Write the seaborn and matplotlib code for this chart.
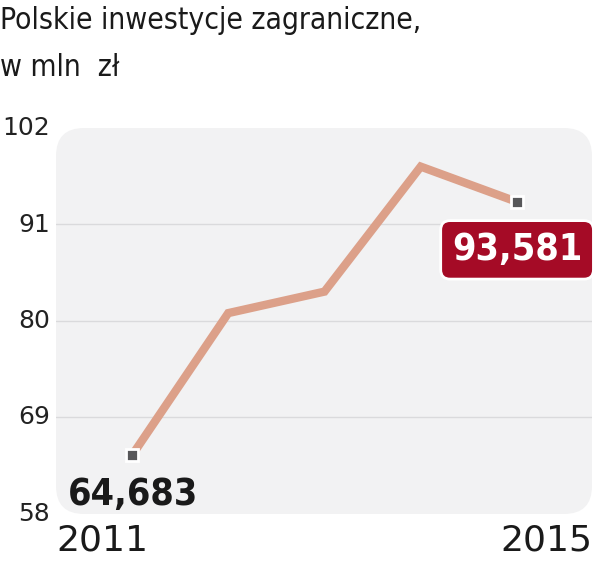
import matplotlib
matplotlib.use("Agg")
import matplotlib.pyplot as plt
from matplotlib.patches import FancyBboxPatch
import seaborn as sns
import pandas as pd

years = [2011, 2012, 2013, 2014, 2015]
values = [64.683, 80.9, 83.35, 97.6, 93.581]
y_ticks = [58, 69, 80, 91, 102]
first_label = "64,683"
last_label = "93,581"
title_lines = ["Polskie inwestycje zagraniczne,", "w mln  zł"]

sns.set_theme(style="white")
plt.rcParams["font.family"] = ["DejaVu Sans"]

df = pd.DataFrame({"rok": years, "wartosc": values})

fig = plt.figure(figsize=(6.02, 5.61), dpi=100)

# background layer in pixel units for the rounded grey panel
bg = fig.add_axes([0, 0, 1, 1], zorder=-1)
bg.set_xlim(0, 602)
bg.set_ylim(561, 0)
bg.axis("off")
bg.add_patch(FancyBboxPatch((56, 128), 536, 386,
                            boxstyle="round,pad=0,rounding_size=28",
                            facecolor="#f2f2f3", edgecolor="none"))

ax = fig.add_axes([56 / 602, 47 / 561, 536 / 602, 386 / 561])
ax.set_facecolor("none")

for t in y_ticks[1:-1]:
    ax.axhline(t, color="#dadadc", lw=1, zorder=1)

sns.lineplot(data=df, x="rok", y="wartosc", ax=ax, color="#dca089",
             lw=6, solid_joinstyle="miter", zorder=2)
ax.plot([years[0], years[-1]], [values[0], values[-1]], ls="none", marker="s",
        ms=8.5, mfc="#58585a", mec="white", mew=2, zorder=3)

ax.set_xlim(2010.21, 2015.78)
ax.set_ylim(58, 102)
ax.set_xticks([])
ax.set_yticks([])
ax.set_xlabel("")
ax.set_ylabel("")
for s in ax.spines.values():
    s.set_visible(False)

# y tick labels
for t in y_ticks:
    ax.text(-6 / 536, (t - 58) / 44, str(t), transform=ax.transAxes,
            ha="right", va="center", fontsize=18, color="#222222")

# x labels
ax.text(0.0, -0.025, str(years[0]), transform=ax.transAxes, ha="left",
        va="top", fontsize=26, color="#1a1a1a")
ax.text(1.0, -0.025, str(years[-1]), transform=ax.transAxes, ha="right",
        va="top", fontsize=26, color="#1a1a1a")

# value labels
ax.annotate(first_label, (years[0], values[0]), xytext=(-64, -22),
            textcoords="offset pixels", ha="left", va="top",
            fontsize=27, fontweight="bold", fontstretch="condensed",
            color="#1a1a1a", zorder=4)
ax.annotate(last_label, (years[-1], values[-1]), xytext=(-65, -30),
            textcoords="offset pixels", ha="left", va="top",
            fontsize=27, fontweight="bold", fontstretch="condensed",
            color="white", zorder=4,
            bbox=dict(boxstyle="round,pad=0.3,rounding_size=0.25",
                      fc="#a50b26", ec="white", lw=2))

fig.text(0.0, 1 - 6 / 561, title_lines[0], ha="left", va="top",
         fontsize=21.5, color="#1a1a1a", fontweight="light",
         fontstretch="condensed")
fig.text(0.0, 1 - 53 / 561, title_lines[1], ha="left", va="top",
         fontsize=21.5, color="#1a1a1a", fontweight="light",
         fontstretch="condensed")

fig.savefig("out.png", dpi=100)
